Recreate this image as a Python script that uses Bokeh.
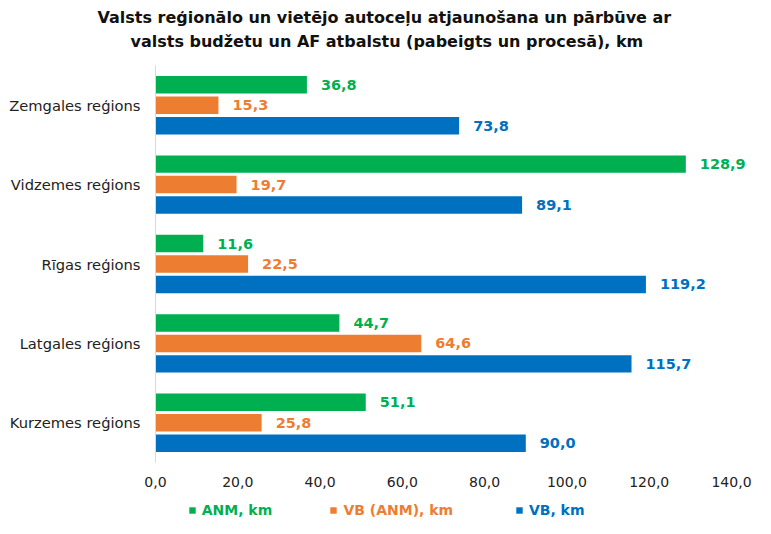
from bokeh.plotting import figure
from bokeh.layouts import column
from bokeh.models import (ColumnDataSource, FactorRange, Range1d, FixedTicker,
                          CustomJSTickFormatter, Legend, LegendItem, Title)
from bokeh.transform import dodge
from bokeh.core.properties import value
from bokeh.embed import file_html
from bokeh.resources import INLINE

# ---- data (bottom to top) ----
regions = ["Kurzemes reģions", "Latgales reģions", "Rīgas reģions",
           "Vidzemes reģions", "Zemgales reģions"]
anm = [51.1, 44.7, 11.6, 128.9, 36.8]
vb_anm = [25.8, 64.6, 22.5, 19.7, 15.3]
vb = [90.0, 115.7, 119.2, 89.1, 73.8]
series_names = ["ANM, km", "VB (ANM), km", "VB, km"]
x_ticks = [0, 20, 40, 60, 80, 100, 120, 140]
title_lines = ["Valsts reģionālo un vietējo autoceļu atjaunošana un pārbūve ar",
               "valsts budžetu un AF atbalstu (pabeigts un procesā), km"]

colors = ["#00B050", "#ED7D31", "#0070C0"]
FONT = "DejaVu Sans"
W = 753


def fmt(v):
    return f"{v:.1f}".replace(".", ",")


src = ColumnDataSource(dict(
    region=regions,
    anm=anm, vb_anm=vb_anm, vb=vb,
    anm_t=[fmt(v) for v in anm],
    vb_anm_t=[fmt(v) for v in vb_anm],
    vb_t=[fmt(v) for v in vb],
))

left = 155
frame_w = W - left
x_end = 140 * frame_w / 576.0

p = figure(width=W, height=492, output_backend="svg", toolbar_location=None,
           y_range=FactorRange(factors=regions), x_range=Range1d(0, x_end),
           min_border_left=left, min_border_right=0, min_border_top=0,
           min_border_bottom=30)
p.outline_line_color = None
p.xgrid.visible = False
p.ygrid.visible = False

step = 0.258
h = 0.22
offsets = [step, 0.0, -step]
fields = ["anm", "vb_anm", "vb"]
for f, off, c in zip(fields, offsets, colors):
    p.hbar(y=dodge("region", off, range=p.y_range), right=f, left=0,
           height=h, color=c, line_color=None, source=src)
    p.text(x=f, y=dodge("region", off, range=p.y_range), text=f + "_t",
           source=src, x_offset=14, text_baseline="middle", text_align="left",
           text_font=value(FONT), text_font_style="bold",
           text_font_size="14.5px", text_color=c)

# axes
p.xaxis.ticker = FixedTicker(ticks=x_ticks)
p.xaxis.formatter = CustomJSTickFormatter(code="return tick.toFixed(1).replace('.', ',')")
p.xaxis.axis_line_color = None
p.xaxis.major_tick_line_color = None
p.xaxis.minor_tick_line_color = None
p.xaxis.major_tick_out = 0
p.xaxis.major_tick_in = 0
p.xaxis.major_label_standoff = 14
p.xaxis.major_label_text_font = FONT
p.xaxis.major_label_text_font_size = "14px"
p.xaxis.major_label_text_color = "#222222"

p.yaxis.axis_line_color = "#D9D9D9"
p.yaxis.major_tick_line_color = None
p.yaxis.minor_tick_line_color = None
p.yaxis.major_tick_out = 0
p.yaxis.major_tick_in = 0
p.yaxis.major_label_standoff = 15
p.yaxis.major_label_text_font = FONT
p.yaxis.major_label_text_font_size = "14.7px"
p.yaxis.major_label_text_color = "#222222"

# title: spacer nearest the frame, then line 2, then line 1, then top spacer
spacer = Title(text=" ", text_font_size="10px", standoff=0, text_font=FONT)
t2 = Title(text=title_lines[1], align="left", offset=-25, standoff=4,
           text_font=FONT, text_font_size="16px", text_font_style="bold",
           text_color="#111111")
t1 = Title(text=title_lines[0], align="left", offset=-58, standoff=1,
           text_font=FONT, text_font_size="16px", text_font_style="bold",
           text_color="#111111")
top_pad = Title(text=" ", text_font_size="3px", standoff=0, text_font=FONT)
p.add_layout(spacer, "above")
p.add_layout(t2, "above")
p.add_layout(t1, "above")
p.add_layout(top_pad, "above")

# legend strip below the chart (one legend per series for coloured labels)
lf = figure(width=W, height=26, output_backend="svg", toolbar_location=None,
            y_range=FactorRange(factors=regions), x_range=Range1d(0, x_end),
            x_axis_location=None, y_axis_location=None,
            min_border_left=0, min_border_right=0, min_border_top=0,
            min_border_bottom=0)
lf.outline_line_color = None
lf.xgrid.visible = False
lf.ygrid.visible = False

leg_x = [32.7, 174.4, 359.9]
for name, f, c, lx in zip(series_names, fields, colors, leg_x):
    r = lf.hbar(y="region", right=f, left=0, height=h, color=c,
                line_color=None, source=src, visible=False)
    leg = Legend(items=[LegendItem(label=name, renderers=[r])],
                 location=(lx, 0), orientation="horizontal",
                 padding=0, margin=0, spacing=0,
                 border_line_color=None, background_fill_alpha=0,
                 inactive_fill_alpha=0,
                 glyph_width=8, glyph_height=8, label_standoff=6,
                 label_height=14, label_text_font=FONT,
                 label_text_font_size="14px", label_text_font_style="bold",
                 label_text_color=c, label_text_baseline="middle")
    lf.add_layout(leg, "center")

layout = column(p, lf, spacing=0)
open("out.html", "w").write(file_html(layout, INLINE))
